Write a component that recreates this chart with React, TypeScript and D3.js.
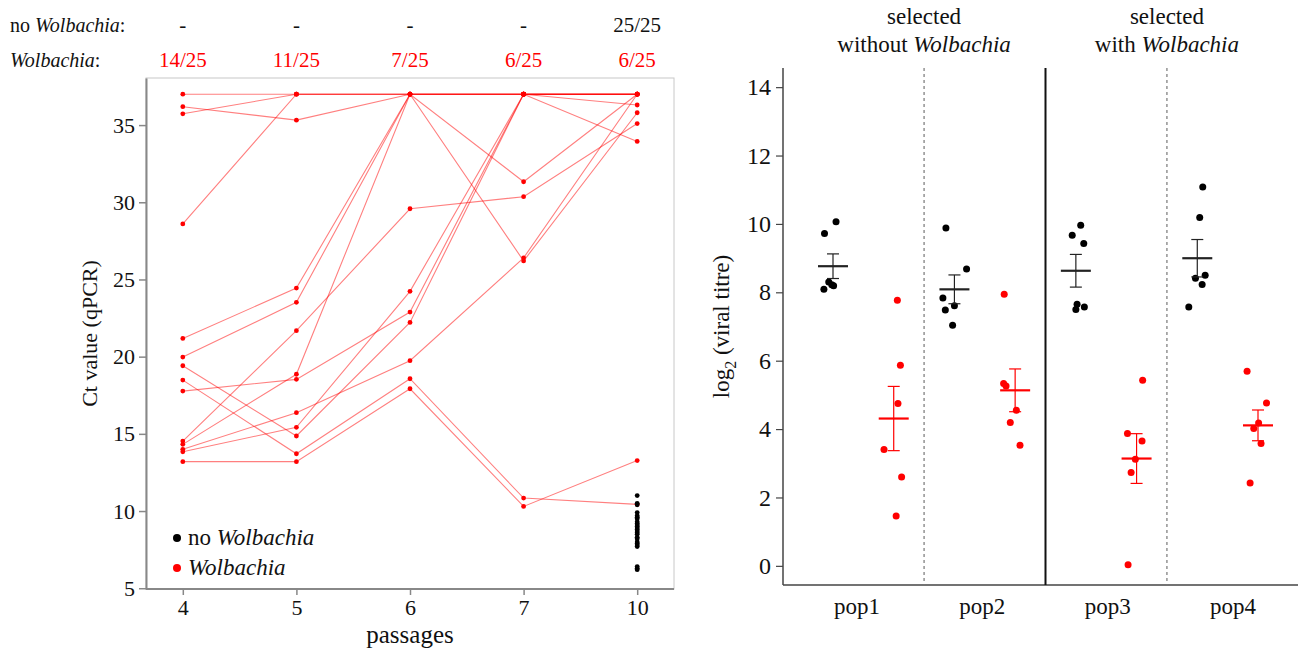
import { useRef, useEffect } from 'react';
import * as d3 from 'd3';

const PASSAGES = ["4", "5", "6", "7", "10"];
const NO_WOLB_COUNTS = ["-", "-", "-", "-", "25/25"];
const WOLB_COUNTS = ["14/25", "11/25", "7/25", "6/25", "6/25"];

// Ct value of each Wolbachia line across passages (37 = not detected)
const WOLB_LINES = [
  [37, 37, 37, 37, 37],
  [36.19, 35.32, 37, 37, 36.3],
  [35.73, 37, 37, 31.33, 37],
  [28.6, 37, 37, 26.2, 35.8],
  [21.18, 24.44, 37, 37, 33.94],
  [19.97, 23.52, 37, 37, 37],
  [14.32, 18.86, 37, 37, 37],
  [14.53, 21.68, 29.58, 30.36, 35.1],
  [17.77, 18.53, 22.89, 37, 37],
  [14.0, 16.37, 19.74, 26.4, 37],
  [13.84, 15.42, 24.23, 37, 37],
  [19.41, 14.86, 22.22, 37, 37],
  [18.48, 13.71, 18.57, 10.84, 10.43],
  [13.2, 13.2, 17.92, 10.3, 13.27]
];

// no-Wolbachia lines, passage 10
const NO_WOLB_P10 = [11.0, 10.5, 10.4, 9.9, 9.7, 9.6, 9.5, 9.3, 9.2, 9.1, 9.0, 8.9, 8.8,
  8.7, 8.6, 8.5, 8.3, 8.2, 8.0, 7.9, 7.8, 7.7, 6.4, 6.3, 6.2];

const LEFT_TICKS = [5, 10, 15, 20, 25, 30, 35];

const POPS = ["pop1", "pop2", "pop3", "pop4"];
const TITRE_NO_WOLB = [
  [10.06, 9.72, 8.30, 8.22, 8.19, 8.09],
  [9.88, 8.68, 7.83, 7.61, 7.48, 7.04],
  [9.96, 9.67, 9.43, 7.65, 7.50, 7.57],
  [11.08, 10.19, 8.50, 8.41, 8.23, 7.57]
];
const TITRE_WOLB = [
  [7.77, 5.87, 4.75, 3.40, 2.60, 1.46],
  [7.94, 5.33, 5.26, 4.55, 4.19, 3.53],
  [5.43, 3.87, 3.65, 3.12, 2.73, 0.03],
  [5.69, 4.76, 4.18, 4.02, 3.58, 2.42]
];
// horizontal jitter, fraction of category step
const JITTER_NO_WOLB = [
  [0.05, -0.14, -0.07, -0.02, 0.01, -0.15],
  [-0.14, 0.2, -0.19, 0, -0.15, -0.03],
  [0.08, -0.06, 0.13, 0.02, 0, 0.14],
  [0.09, 0.04, 0.13, -0.03, 0.08, -0.14]
];
const JITTER_WOLB = [
  [0.06, 0.11, 0.07, -0.16, 0.13, 0.04],
  [-0.18, -0.19, -0.15, 0.02, -0.08, 0.08],
  [0.1, -0.15, 0.09, -0.02, -0.09, -0.14],
  [-0.18, 0.14, 0.01, -0.07, 0.05, -0.13]
];
const RIGHT_TICKS = [0, 2, 4, 6, 8, 10, 12, 14];

const FONT = '"Liberation Serif", "DejaVu Serif", serif';
const RED = "#ff0000";

function App() {
  const svgRef = useRef<SVGSVGElement>(null);

  useEffect(() => {
    const svg = d3.select(svgRef.current);
    svg.selectAll("*").remove();
    svg.attr("font-family", FONT);

    // ---------- Left panel: Ct over passages ----------
    const L = { left: 146, right: 674, top: 78, bottom: 589 };
    const x = d3.scalePoint().domain(PASSAGES).range([L.left, L.right]).padding(0.324);
    const y = d3.scaleLinear().domain([4.95, 38.05]).range([L.bottom, L.top]);

    const gl = svg.append("g");

    // box
    gl.append("rect")
      .attr("x", L.left).attr("y", L.top)
      .attr("width", L.right - L.left).attr("height", L.bottom - L.top)
      .attr("fill", "none").attr("stroke", "#c8c8c8").attr("stroke-width", 1);

    // y axis
    const yAxis = gl.append("g")
      .attr("transform", `translate(${L.left},0)`)
      .call(d3.axisLeft(y).tickValues(LEFT_TICKS).tickSize(7).tickPadding(4).tickSizeOuter(0))
      .attr("font-family", FONT).attr("font-size", 22);
    yAxis.select(".domain").attr("stroke", "#888").attr("stroke-width", 2);
    yAxis.selectAll(".tick line").attr("stroke", "#888").attr("stroke-width", 1.5);
    yAxis.selectAll("text").attr("fill", "#111");

    // x axis
    const xAxis = gl.append("g")
      .attr("transform", `translate(0,${L.bottom})`)
      .call(d3.axisBottom(x).tickSize(6).tickPadding(4).tickSizeOuter(0))
      .attr("font-family", FONT).attr("font-size", 22);
    xAxis.select(".domain").attr("stroke", "#888").attr("stroke-width", 2)
      .attr("d", `M${L.left},0H${L.right}`);
    xAxis.selectAll(".tick line").attr("stroke", "#888").attr("stroke-width", 1.5);
    xAxis.selectAll("text").attr("fill", "#111");

    gl.append("text")
      .attr("x", x("6")).attr("y", 643)
      .attr("text-anchor", "middle").attr("font-size", 25).attr("fill", "#111")
      .text("passages");

    gl.append("text")
      .attr("transform", `translate(97,${(L.top + L.bottom) / 2}) rotate(-90)`)
      .attr("text-anchor", "middle").attr("font-size", 22).attr("fill", "#111")
      .text("Ct value (qPCR)");

    // lines
    const line = d3.line<number>()
      .x((d, i) => x(PASSAGES[i]) as number)
      .y(d => y(d));
    gl.selectAll("path.wline")
      .data(WOLB_LINES)
      .enter().append("path")
      .attr("class", "wline")
      .attr("d", d => line(d))
      .attr("fill", "none")
      .attr("stroke", RED)
      .attr("stroke-opacity", 0.5)
      .attr("stroke-width", 1.1);

    // red points
    const pts = WOLB_LINES.flatMap(l => l.map((v, i) => ({ p: PASSAGES[i], v })));
    gl.selectAll("circle.wpt")
      .data(pts)
      .enter().append("circle")
      .attr("cx", d => x(d.p) as number)
      .attr("cy", d => y(d.v))
      .attr("r", 2.4)
      .attr("fill", RED);

    // black points at passage 10
    gl.selectAll("circle.npt")
      .data(NO_WOLB_P10)
      .enter().append("circle")
      .attr("cx", x("10") as number)
      .attr("cy", d => y(d))
      .attr("r", 2.4)
      .attr("fill", "#000");

    // legend
    const legend = [
      { label: "no ", em: "Wolbachia", color: "#000" },
      { label: "", em: "Wolbachia", color: RED }
    ];
    legend.forEach((d, i) => {
      const ly = 538 + i * 30;
      gl.append("circle").attr("cx", 177).attr("cy", ly).attr("r", 4).attr("fill", d.color);
      const t = gl.append("text").attr("x", 188).attr("y", ly + 7)
        .attr("font-size", 23).attr("fill", "#111");
      if (d.label) t.append("tspan").text(d.label);
      t.append("tspan").attr("font-style", "italic").text(d.em);
    });

    // header counts
    const h1 = svg.append("text").attr("x", 10).attr("y", 32).attr("font-size", 20).attr("fill", "#111");
    h1.append("tspan").text("no ");
    h1.append("tspan").attr("font-style", "italic").text("Wolbachia");
    h1.append("tspan").text(":");
    const h2 = svg.append("text").attr("x", 10).attr("y", 67).attr("font-size", 20).attr("fill", "#111");
    h2.append("tspan").attr("font-style", "italic").text("Wolbachia");
    h2.append("tspan").text(":");

    svg.selectAll("text.nwc")
      .data(NO_WOLB_COUNTS)
      .enter().append("text")
      .attr("class", "nwc")
      .attr("x", (d, i) => x(PASSAGES[i]) as number)
      .attr("y", 32)
      .attr("text-anchor", "middle")
      .attr("font-size", 21)
      .attr("fill", "#111")
      .text(d => d);
    svg.selectAll("text.wc")
      .data(WOLB_COUNTS)
      .enter().append("text")
      .attr("class", "wc")
      .attr("x", (d, i) => x(PASSAGES[i]) as number)
      .attr("y", 67)
      .attr("text-anchor", "middle")
      .attr("font-size", 21)
      .attr("fill", RED)
      .text(d => d);

    // ---------- Right panel: viral titre ----------
    const R = { left: 783, right: 1298, top: 68, bottom: 585 };
    const keys = POPS.flatMap(p => [p + "-n", p + "-w"]);
    const xr = d3.scalePoint().domain(keys).range([833, 1258]);
    const xPop = d3.scalePoint().domain(POPS).range([857, 1233]);
    const step = xr.step();
    const yr = d3.scaleLinear().domain([-0.56, 14.56]).range([R.bottom, R.top]);
    const gr = svg.append("g");

    const yrAxis = gr.append("g")
      .attr("transform", `translate(${R.left},0)`)
      .call(d3.axisLeft(yr).tickValues(RIGHT_TICKS).tickSize(7).tickPadding(5).tickSizeOuter(0))
      .attr("font-family", FONT).attr("font-size", 24);
    yrAxis.select(".domain").attr("stroke", "#444").attr("stroke-width", 1.5)
      .attr("d", `M0,${R.top}V${R.bottom}`);
    yrAxis.selectAll(".tick line").attr("stroke", "#444").attr("stroke-width", 1.2);
    yrAxis.selectAll("text").attr("fill", "#111");

    gr.append("line")
      .attr("x1", R.left).attr("x2", R.right)
      .attr("y1", R.bottom).attr("y2", R.bottom)
      .attr("stroke", "#444").attr("stroke-width", 1.5);

    // separators between populations
    POPS.slice(1).forEach((p, i) => {
      const sx = ((xr(POPS[i] + "-w") as number) + (xr(p + "-n") as number)) / 2;
      gr.append("line")
        .attr("x1", sx).attr("x2", sx).attr("y1", R.top).attr("y2", R.bottom)
        .attr("stroke", i === 1 ? "#111" : "#777")
        .attr("stroke-width", i === 1 ? 2 : 1.2)
        .attr("stroke-dasharray", i === 1 ? null : "3,3");
    });

    // population labels
    gr.selectAll("text.pop")
      .data(POPS)
      .enter().append("text")
      .attr("x", p => xPop(p) as number)
      .attr("y", 614)
      .attr("text-anchor", "middle")
      .attr("font-size", 23)
      .attr("fill", "#111")
      .text(p => p);

    // group headers
    const headers = [
      { pops: ["pop1", "pop2"], line2: "without " },
      { pops: ["pop3", "pop4"], line2: "with " }
    ];
    headers.forEach(h => {
      const cx = ((xr(h.pops[0] + "-w") as number) + (xr(h.pops[1] + "-n") as number)) / 2;
      gr.append("text").attr("x", cx).attr("y", 24).attr("text-anchor", "middle")
        .attr("font-size", 23).attr("fill", "#111").text("selected");
      const t = gr.append("text").attr("x", cx).attr("y", 52).attr("text-anchor", "middle")
        .attr("font-size", 23).attr("fill", "#111");
      t.append("tspan").text(h.line2);
      t.append("tspan").attr("font-style", "italic").text("Wolbachia");
    });

    // y label
    const yl = gr.append("text")
      .attr("transform", `translate(729,${(R.top + R.bottom) / 2}) rotate(-90)`)
      .attr("text-anchor", "middle").attr("font-size", 23).attr("fill", "#111");
    yl.append("tspan").text("log");
    yl.append("tspan").attr("dy", 7).attr("font-size", 16).text("2");
    yl.append("tspan").attr("dy", -7).text(" (viral titre)");

    // points + mean ± s.e.
    const groups = POPS.flatMap((p, i) => [
      { key: p + "-n", vals: TITRE_NO_WOLB[i], jit: JITTER_NO_WOLB[i], color: "#000" },
      { key: p + "-w", vals: TITRE_WOLB[i], jit: JITTER_WOLB[i], color: RED }
    ]);
    groups.forEach(g => {
      const cx = xr(g.key) as number;
      const m = d3.mean(g.vals) as number;
      const se = (d3.deviation(g.vals) as number) / Math.sqrt(g.vals.length);
      const gg = gr.append("g");
      gg.selectAll("circle")
        .data(g.vals)
        .enter().append("circle")
        .attr("cx", (d, i) => cx + g.jit[i] * step)
        .attr("cy", d => yr(d))
        .attr("r", 3.5)
        .attr("fill", g.color);
      const c = g.color === "#000" ? "#222" : RED;
      gg.append("line").attr("x1", cx).attr("x2", cx)
        .attr("y1", yr(m + se)).attr("y2", yr(m - se))
        .attr("stroke", c).attr("stroke-width", 1.2);
      [m + se, m - se].forEach(v => {
        gg.append("line").attr("x1", cx - 6).attr("x2", cx + 6)
          .attr("y1", yr(v)).attr("y2", yr(v))
          .attr("stroke", c).attr("stroke-width", 1.2);
      });
      gg.append("line").attr("x1", cx - 15).attr("x2", cx + 15)
        .attr("y1", yr(m)).attr("y2", yr(m))
        .attr("stroke", c).attr("stroke-width", 2.2);
    });
  }, []);

  return (
    <svg ref={svgRef} width={1298} height={651}
      style={{ position: "absolute", left: 0, top: 0, background: "#fff" }} />
  );
}

export default App;
